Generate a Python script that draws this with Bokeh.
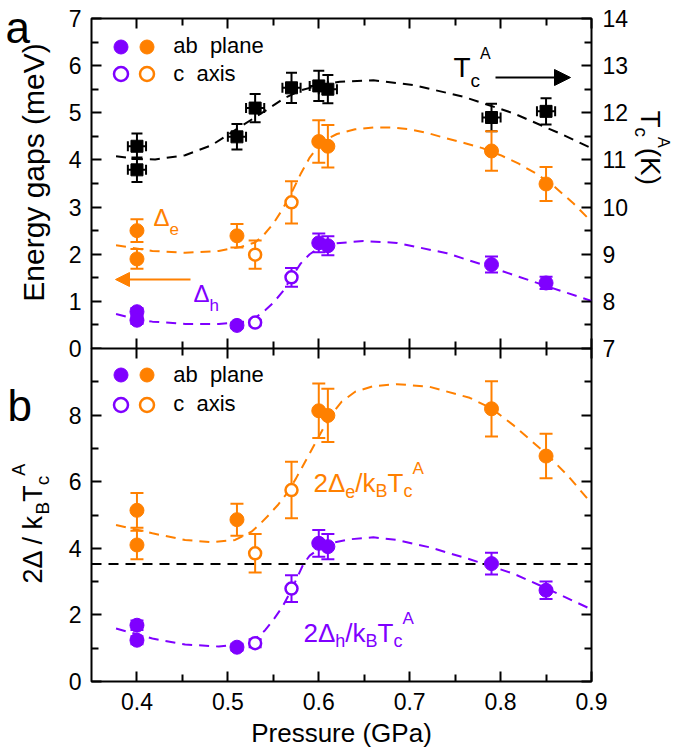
from math import pi
from bokeh.plotting import figure
from bokeh.layouts import column, row
from bokeh.models import (ColumnDataSource, Whisker, TeeHead, Label, Legend, LegendItem,
                          LinearAxis, Range1d, FixedTicker, Span, Arrow, NormalHead,
                          CustomJSTickFormatter)
from bokeh.embed import file_html
from bokeh.resources import INLINE

FONT = "Liberation Sans"
PURPLE = "#7f00ff"
ORANGE = "#ff8000"

# ---------------- data ----------------
P_AB = [0.40, 0.40, 0.51, 0.60, 0.61, 0.79, 0.85]
P_C = [0.53, 0.57]

TC_P = [0.40, 0.40, 0.51, 0.53, 0.57, 0.60, 0.61, 0.79, 0.85]
TC_K = [11.29, 10.79, 11.49, 12.10, 12.53, 12.57, 12.50, 11.90, 12.03]
TC_ERR = [0.27, 0.26, 0.27, 0.30, 0.32, 0.32, 0.30, 0.29, 0.28]
TC_PERR = [0.01, 0.01, 0.01, 0.01, 0.01, 0.01, 0.01, 0.01, 0.01]

DE_AB = [2.50, 1.90, 2.39, 4.39, 4.29, 4.19, 3.49]
DE_AB_ERR = [0.24, 0.21, 0.25, 0.45, 0.45, 0.42, 0.36]
DE_C = [1.99, 3.10]
DE_C_ERR = [0.30, 0.45]
DH_AB = [0.78, 0.60, 0.49, 2.24, 2.18, 1.78, 1.39]
DH_AB_ERR = [0.08, 0.08, 0.06, 0.20, 0.20, 0.17, 0.13]
DH_C = [0.55, 1.51]
DH_C_ERR = [0.06, 0.20]

RE_AB = [5.14, 4.10, 4.86, 8.13, 7.99, 8.19, 6.77]
RE_AB_ERR = [0.52, 0.43, 0.48, 0.82, 0.80, 0.83, 0.67]
RE_C = [3.85, 5.75]
RE_C_ERR = [0.58, 0.85]
RH_AB = [1.69, 1.24, 1.03, 4.15, 4.05, 3.54, 2.74]
RH_AB_ERR = [0.14, 0.12, 0.10, 0.40, 0.38, 0.33, 0.26]
RH_C = [1.15, 2.79]
RH_C_ERR = [0.12, 0.40]
BCS = 3.53

# dashed guide curves
TC_FIT_P = [0.377, 0.40, 0.42, 0.453, 0.482, 0.515, 0.541, 0.563, 0.581, 0.60,
            0.623, 0.66, 0.704, 0.759, 0.814, 0.869, 0.90]
TC_FIT_K = [11.08, 11.02, 11.01, 11.10, 11.31, 11.72, 12.04, 12.32, 12.48, 12.58,
            12.66, 12.69, 12.59, 12.34, 11.99, 11.53, 11.25]
DE_FIT_P = [0.377, 0.417, 0.453, 0.49, 0.515, 0.53, 0.54, 0.55, 0.56, 0.57, 0.58,
            0.59, 0.60, 0.61, 0.62, 0.64, 0.66, 0.68, 0.70, 0.72, 0.74, 0.76, 0.78,
            0.80, 0.82, 0.84, 0.86, 0.88, 0.90]
DE_FIT = [2.19, 2.07, 2.03, 2.07, 2.16, 2.25, 2.42, 2.65, 2.95, 3.30, 3.70,
          4.05, 4.30, 4.45, 4.55, 4.65, 4.69, 4.69, 4.65, 4.57, 4.46, 4.36, 4.25,
          4.10, 3.92, 3.70, 3.42, 3.08, 2.69]
DH_FIT_P = [0.377, 0.40, 0.417, 0.453, 0.49, 0.519, 0.53, 0.541, 0.55, 0.56, 0.57,
            0.58, 0.59, 0.60, 0.612, 0.649, 0.686, 0.741, 0.796, 0.851, 0.90]
DH_FIT = [0.73, 0.62, 0.57, 0.52, 0.52, 0.57, 0.65, 0.81, 0.97, 1.20, 1.50,
          1.80, 2.00, 2.13, 2.22, 2.28, 2.24, 2.02, 1.68, 1.32, 1.01]
RE_FIT_P = [0.377, 0.417, 0.453, 0.482, 0.508, 0.526, 0.535, 0.545, 0.555, 0.565,
            0.575, 0.585, 0.595, 0.605, 0.615, 0.625, 0.64, 0.66, 0.686, 0.722,
            0.766, 0.79, 0.814, 0.851, 0.875, 0.898]
RE_FIT = [4.70, 4.45, 4.25, 4.18, 4.25, 4.50, 4.72, 5.00, 5.30, 5.65,
          6.10, 6.60, 7.10, 7.60, 8.05, 8.40, 8.70, 8.87, 8.93, 8.85,
          8.52, 8.20, 7.70, 6.82, 6.15, 5.41]
RH_FIT_P = [0.377, 0.417, 0.453, 0.49, 0.519, 0.53, 0.541, 0.55, 0.56, 0.567, 0.574,
            0.583, 0.59, 0.60, 0.612, 0.634, 0.66, 0.686, 0.722, 0.766, 0.814,
            0.851, 0.898]
RH_FIT = [1.59, 1.29, 1.11, 1.05, 1.13, 1.28, 1.54, 1.85, 2.24, 2.60, 2.99,
          3.52, 3.78, 3.98, 4.15, 4.27, 4.33, 4.25, 4.03, 3.67, 3.24,
          2.79, 2.19]

X_TICKS = [0.4, 0.5, 0.6, 0.7, 0.8, 0.9]
X_MINOR = [0.45, 0.55, 0.65, 0.75, 0.85]

# ---------------- helpers ----------------
W = {'2': 556, 'Δ': 668, ' ': 278, '/': 278, 'k': 500, 'B': 667, 'T': 611, 'c': 500,
     'A': 667, 'e': 556, 'h': 556, '(': 333, ')': 333, 'K': 667}


def tw(s, size):
    return sum(W.get(ch, 556) for ch in s) / 1000.0 * size


# page-pixel -> data helpers (for annotation placement only)
def gx(px):
    return 0.35 + (px - 91) * 0.55 / 500


def gy1(py):
    return (348 - py) * 7 / 330


def gy2(py):
    return (681 - py) * 10 / 333


def rich(p, x, y, pieces, color, angle=0.0):
    pos = 0.0
    for text, size, shift in pieces:
        if angle == 0:
            dx, dy = pos, shift
        elif angle > 0:
            dx, dy = -shift, pos
        else:
            dx, dy = shift, -pos
        p.add_layout(Label(x=x, y=y, x_offset=dx, y_offset=dy, text=text, angle=angle,
                           text_font=FONT, text_font_size=f"{size}px", text_color=color,
                           text_baseline="alphabetic", text_align="left"))
        pos += tw(text, size)


def axis(ticks, minor, labels=True, standoff=10, y_range_name=None):
    kw = {}
    if y_range_name:
        kw["y_range_name"] = y_range_name
    ax = LinearAxis(ticker=FixedTicker(ticks=ticks, minor_ticks=minor), **kw)
    ax.axis_line_color = None
    ax.major_tick_in = 10
    ax.major_tick_out = 0
    ax.minor_tick_in = 7
    ax.minor_tick_out = 0
    ax.major_tick_line_width = 2
    ax.minor_tick_line_width = 2
    ax.major_tick_line_color = "black"
    ax.minor_tick_line_color = "black"
    if labels:
        ax.major_label_text_font = FONT
        ax.major_label_text_font_size = "23px"
        ax.major_label_text_color = "black"
        ax.major_label_standoff = standoff
    else:
        ax.formatter = CustomJSTickFormatter(code="return ''")
        ax.major_label_text_font_size = "1px"
        ax.major_label_standoff = 0
    return ax


def style(p):
    p.grid.visible = False
    p.outline_line_color = "black"
    p.outline_line_width = 2
    p.background_fill_color = "white"
    p.border_fill_color = "white"


def blank(w, h):
    f = figure(width=w, height=h, x_range=Range1d(0, w), y_range=Range1d(h, 0),
               x_axis_location=None, y_axis_location=None, output_backend="svg",
               toolbar_location=None, min_border_left=0, min_border_right=0,
               min_border_top=0, min_border_bottom=0)
    f.grid.visible = False
    f.outline_line_color = None
    f.background_fill_alpha = 0
    f.border_fill_alpha = 0
    return f


def errbars(p, xs, ys, errs, color, head=13, y_range_name="default"):
    src = ColumnDataSource(dict(x=xs, lo=[y - e for y, e in zip(ys, errs)],
                                hi=[y + e for y, e in zip(ys, errs)]))
    w = Whisker(source=src, base="x", lower="lo", upper="hi", level="underlay",
                line_color=color, line_width=2, y_range_name=y_range_name,
                upper_head=TeeHead(size=head, line_color=color, line_width=2),
                lower_head=TeeHead(size=head, line_color=color, line_width=2))
    p.add_layout(w)


def points(p, xs, ys, color, filled=True):
    if filled:
        return p.scatter(xs, ys, marker="circle", size=14, fill_color=color,
                         line_color=color, line_width=1)
    return p.scatter(xs, ys, marker="circle", size=12, fill_color="white",
                     line_color=color, line_width=2.5)


def one_legend(p, r, label, vx, vy):
    lg = Legend(items=[LegendItem(label=label, renderers=[r])], location=(vx, vy),
                glyph_width=35, glyph_height=35, spacing=0, padding=0, margin=0,
                border_line_color=None, background_fill_alpha=0,
                label_text_font=FONT, label_text_font_size="22px", label_standoff=9,
                label_text_color="black")
    p.add_layout(lg)


DASH = "10 7"
MID_W = 579
H_ALL = 754
OVER = 15   # panel a's canvas reaches this far below its frame; panel b is pulled up over it

# ---------------- panel a ----------------
p1 = figure(width=MID_W, height=348 + OVER, x_range=Range1d(0.35, 0.9), y_range=Range1d(0, 7),
            x_axis_location=None, y_axis_location=None, output_backend="svg",
            toolbar_location=None, min_border_left=39, min_border_right=40,
            min_border_top=18, min_border_bottom=OVER)
p1.extra_y_ranges = {"tc": Range1d(7, 14)}
style(p1)
p1.add_layout(axis(list(range(0, 8)), [i + 0.5 for i in range(7)], standoff=10), "left")
p1.add_layout(axis(list(range(7, 15)), [i + 0.5 for i in range(7, 14)], standoff=11,
                   y_range_name="tc"), "right")
p1.add_layout(axis(X_TICKS, X_MINOR, labels=False), "above")
p1.add_layout(axis(X_TICKS, X_MINOR, labels=False), "below")

p1.line(TC_FIT_P, TC_FIT_K, y_range_name="tc", line_color="black", line_width=2, line_dash=DASH)
p1.line(DE_FIT_P, DE_FIT, line_color=ORANGE, line_width=2, line_dash=DASH)
p1.line(DH_FIT_P, DH_FIT, line_color=PURPLE, line_width=2, line_dash=DASH)

errbars(p1, TC_P, TC_K, TC_ERR, "black", head=11, y_range_name="tc")
src_tc = ColumnDataSource(dict(y=TC_K, lo=[p - e for p, e in zip(TC_P, TC_PERR)],
                               hi=[p + e for p, e in zip(TC_P, TC_PERR)]))
p1.add_layout(Whisker(source=src_tc, base="y", lower="lo", upper="hi", dimension="width",
                      level="underlay", line_color="black", line_width=2, y_range_name="tc",
                      upper_head=TeeHead(size=10, line_color="black", line_width=2),
                      lower_head=TeeHead(size=10, line_color="black", line_width=2)))
errbars(p1, P_AB, DE_AB, DE_AB_ERR, ORANGE)
errbars(p1, P_C, DE_C, DE_C_ERR, ORANGE)
errbars(p1, P_AB, DH_AB, DH_AB_ERR, PURPLE)
errbars(p1, P_C, DH_C, DH_C_ERR, PURPLE)

p1.scatter(TC_P, TC_K, marker="square", size=12, color="black", y_range_name="tc")
ro_ab = points(p1, P_AB, DE_AB, ORANGE)
ro_c = points(p1, P_C, DE_C, ORANGE, filled=False)
rp_ab = points(p1, P_AB, DH_AB, PURPLE)
rp_c = points(p1, P_C, DH_C, PURPLE, filled=False)
one_legend(p1, rp_ab, " ", 11.5, 284.5)
one_legend(p1, rp_c, " ", 11.5, 257)
one_legend(p1, ro_ab, "ab  plane", 38.2, 284.5)
one_legend(p1, ro_c, "c  axis", 38.2, 257)

rich(p1, gx(153), gy1(217), [("Δ", 24, 0), ("e", 17, -11)], ORANGE)
rich(p1, gx(193), gy1(293), [("Δ", 24, 0), ("h", 17, -12)], PURPLE)
rich(p1, gx(453), gy1(67), [("T", 28, 0), ("c", 19, -13), ("A", 16, 14)], "black")
p1.add_layout(Arrow(x_start=gx(190), y_start=gy1(279), x_end=gx(115), y_end=gy1(279),
                    line_color=ORANGE, line_width=2,
                    end=NormalHead(size=14, fill_color=ORANGE, line_color=ORANGE)))
p1.add_layout(Arrow(x_start=gx(495), y_start=gy1(77), x_end=gx(570), y_end=gy1(77),
                    line_color="black", line_width=2,
                    end=NormalHead(size=16, fill_color="black", line_color="black")))

# ---------------- panel b ----------------
p2 = figure(width=MID_W, height=406, x_range=p1.x_range, y_range=Range1d(0, 10),
            x_axis_location=None, y_axis_location=None, output_backend="svg",
            toolbar_location=None, min_border_left=39, min_border_right=40,
            min_border_top=0, min_border_bottom=73)
style(p2)
p2.border_fill_alpha = 0
p2.styles = {"margin-top": f"-{OVER}px"}
p2.add_layout(axis([0, 2, 4, 6, 8], [1, 3, 5, 7, 9], standoff=10), "left")
p2.add_layout(axis([0, 2, 4, 6, 8, 10], [1, 3, 5, 7, 9], labels=False), "right")
p2.add_layout(axis(X_TICKS, X_MINOR, labels=False), "above")
xb = axis(X_TICKS, X_MINOR, standoff=11)
xb.axis_label = "Pressure (GPa)"
xb.axis_label_text_font = FONT
xb.axis_label_text_font_size = "26px"
xb.axis_label_text_font_style = "normal"
xb.axis_label_text_color = "black"
xb.axis_label_standoff = 5
p2.add_layout(xb, "below")

p2.add_layout(Span(location=BCS, dimension="width", line_color="black", line_width=2,
                   line_dash=DASH, level="underlay"))
p2.line(RE_FIT_P, RE_FIT, line_color=ORANGE, line_width=2, line_dash=DASH)
p2.line(RH_FIT_P, RH_FIT, line_color=PURPLE, line_width=2, line_dash=DASH)
errbars(p2, P_AB, RE_AB, RE_AB_ERR, ORANGE)
errbars(p2, P_C, RE_C, RE_C_ERR, ORANGE)
errbars(p2, P_AB, RH_AB, RH_AB_ERR, PURPLE)
errbars(p2, P_C, RH_C, RH_C_ERR, PURPLE)
qo_ab = points(p2, P_AB, RE_AB, ORANGE)
qo_c = points(p2, P_C, RE_C, ORANGE, filled=False)
qp_ab = points(p2, P_AB, RH_AB, PURPLE)
qp_c = points(p2, P_C, RH_C, PURPLE, filled=False)
one_legend(p2, qp_ab, " ", 11.5, 288.8)
one_legend(p2, qp_c, " ", 11.5, 259.5)
one_legend(p2, qo_ab, "ab  plane", 38.2, 288.8)
one_legend(p2, qo_c, "c  axis", 38.2, 259.5)

rich(p2, gx(313), gy2(482), [("2Δ", 26, 0), ("e", 18, -9), ("/k", 26, 0), ("B", 18, -8),
                             ("T", 26, 0), ("c", 18, -8), ("A", 17, 14)], ORANGE)
rich(p2, gx(303), gy2(632), [("2Δ", 26, 0), ("h", 18, -8), ("/k", 26, 0), ("B", 18, -8),
                             ("T", 26, 0), ("c", 18, -8), ("A", 17, 14)], PURPLE)

# ---------------- margin strips holding the rotated axis titles ----------------
left = blank(52, H_ALL)
rich(left, 5, 27, [("a", 44, 0)], "black")
rich(left, 7, 405, [("b", 44, 0)], "black")
left.add_layout(Label(x=33, y=172, text="Energy gaps (meV)", angle=pi / 2,
                      text_font=FONT, text_font_size="30px", text_align="center",
                      text_baseline="alphabetic", text_color="black"))
rich(left, 32, 583, [("2Δ / k", 27, 0), ("B", 19, -10), ("T", 27, 0), ("c", 19, -10),
                     ("A", 18, 14)], "black", angle=pi / 2)

right = blank(52, H_ALL)   # starts at page x = 52 + 579 = 631
rich(right, 19, 110, [("T", 28, 0), ("c", 19, -9), ("A", 16, 13), (" (K)", 28, 0)],
     "black", angle=-pi / 2)

layout = row(left, column(p1, p2, spacing=0), right, spacing=0)
open("out.html", "w").write(file_html(layout, INLINE))
